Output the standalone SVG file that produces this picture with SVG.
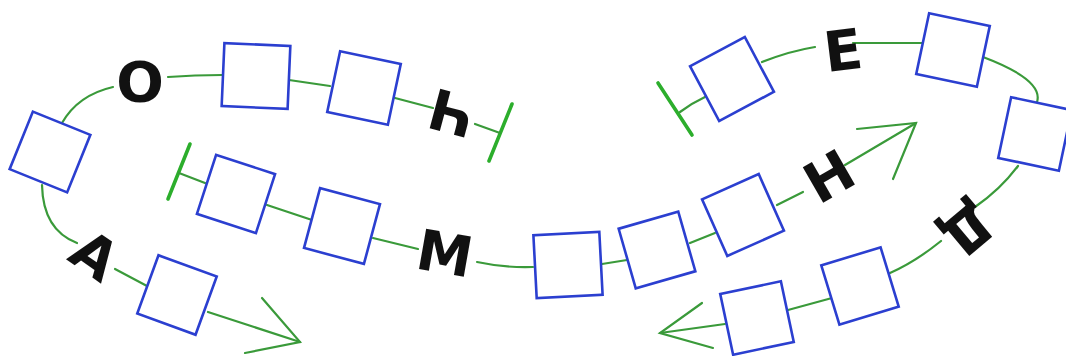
<svg xmlns="http://www.w3.org/2000/svg" width="1066" height="356" viewBox="0 0 1066 356">
<style>
.box{fill:#fff;stroke:#2b3fd0;stroke-width:2.6}
.ln{fill:none;stroke:#3a9a3a;stroke-width:2.2;stroke-linecap:round}
.bar{fill:none;stroke:#2cae2c;stroke-width:3.6;stroke-linecap:round}
.lt{font-family:"DejaVu Sans",sans-serif;font-weight:bold;font-size:56px;fill:#111;text-anchor:middle}
</style>
<rect width="1066" height="356" fill="#fff"/>
<g id="connectors">
<line class="bar" x1="512" y1="104" x2="489" y2="161"/>
<path class="ln" d="M500,133 L475,124"/>
<path class="ln" d="M433,108 L395,98"/>
<path class="ln" d="M330,86 L289,80"/>
<path class="ln" d="M222,75 Q195,75 168,77"/>
<path class="ln" d="M113,87 Q78,95 62,123"/>
<path class="ln" d="M42,185 Q43,230 77,243"/>
<path class="ln" d="M115,269 L147,286"/>
<path class="ln" d="M208,312 L300,342"/>
<path class="ln" d="M262,298 L300,342 L245,353"/>
<line class="bar" x1="190" y1="144" x2="168" y2="199"/>
<path class="ln" d="M179,173 L205,183"/>
<path class="ln" d="M267,205 L312,220"/>
<path class="ln" d="M373,238 L418,249"/>
<path class="ln" d="M477,262 Q505,268 533,267"/>
<path class="ln" d="M602,264 L627,260"/>
<path class="ln" d="M690,243 L715,233"/>
<path class="ln" d="M777,205 L803,192"/>
<path class="ln" d="M845,165 L916,123"/>
<path class="ln" d="M857,129 L916,123 L893,179"/>
<line class="bar" x1="658" y1="83" x2="692" y2="135"/>
<path class="ln" d="M680,112 Q692,103 705,97"/>
<path class="ln" d="M762,62 Q790,51 815,47"/>
<path class="ln" d="M853,43 L922,43"/>
<path class="ln" d="M983,57 Q1044,80 1037,102"/>
<path class="ln" d="M1018,166 Q1000,190 975,207"/>
<path class="ln" d="M941,241 Q915,262 890,273"/>
<path class="ln" d="M832,298 L788,310"/>
<path class="ln" d="M725,324 L660,333"/>
<path class="ln" d="M702,303 L660,333 L713,348"/>
</g>
<g id="box-l0" transform="translate(50,152) rotate(22)"><rect class="box" x="-31" y="-31" width="62" height="62"/></g>
<g id="box-t1" transform="translate(256,76) rotate(2.5)"><rect class="box" x="-33" y="-31.5" width="66" height="63"/></g>
<g id="box-t2" transform="translate(364,88) rotate(12)"><rect class="box" x="-31" y="-31" width="62" height="62"/></g>
<g id="box-a1" transform="translate(177,295) rotate(20)"><rect class="box" x="-31" y="-31" width="62" height="62"/></g>
<g id="box-m1" transform="translate(236,194) rotate(18)"><rect class="box" x="-31" y="-31" width="62" height="62"/></g>
<g id="box-m2" transform="translate(342,226) rotate(15)"><rect class="box" x="-31" y="-31" width="62" height="62"/></g>
<g id="box-m3" transform="translate(568,265) rotate(-3)"><rect class="box" x="-33" y="-31.5" width="66" height="63"/></g>
<g id="box-m4" transform="translate(657,250) rotate(-16)"><rect class="box" x="-31" y="-31" width="62" height="62"/></g>
<g id="box-m5" transform="translate(743,215) rotate(-24)"><rect class="box" x="-31" y="-31" width="62" height="62"/></g>
<g id="box-e1" transform="translate(732,79) rotate(-28)"><rect class="box" x="-31" y="-31" width="62" height="62"/></g>
<g id="box-e2" transform="translate(953,50) rotate(12)"><rect class="box" x="-31" y="-31" width="62" height="62"/></g>
<g id="box-e3" transform="translate(1035,134) rotate(12)"><rect class="box" x="-31" y="-31" width="62" height="62"/></g>
<g id="box-e4" transform="translate(860,286) rotate(-17)"><rect class="box" x="-31" y="-31" width="62" height="62"/></g>
<g id="box-e5" transform="translate(757,318) rotate(-12)"><rect class="box" x="-31" y="-31" width="62" height="62"/></g>
<g id="letter-che" transform="translate(452,113) rotate(195)"><text class="lt" dy="0.36em">Ч</text></g>
<g id="letter-o" transform="translate(140,81)"><text class="lt" dy="0.36em">О</text></g>
<g id="letter-a" transform="translate(95,255) rotate(35)"><text class="lt" dy="0.36em">А</text></g>
<g id="letter-m" transform="translate(445,253) rotate(10)"><text class="lt" dy="0.36em">М</text></g>
<g id="letter-n" transform="translate(829,176) rotate(-30)"><text class="lt" dy="0.36em">Н</text></g>
<g id="letter-e" transform="translate(843,50) rotate(-7)"><text class="lt" dy="0.36em">Е</text></g>
<g id="letter-de" transform="translate(968,230) rotate(140)"><text class="lt" dy="0.36em">Д</text></g>
</svg>
